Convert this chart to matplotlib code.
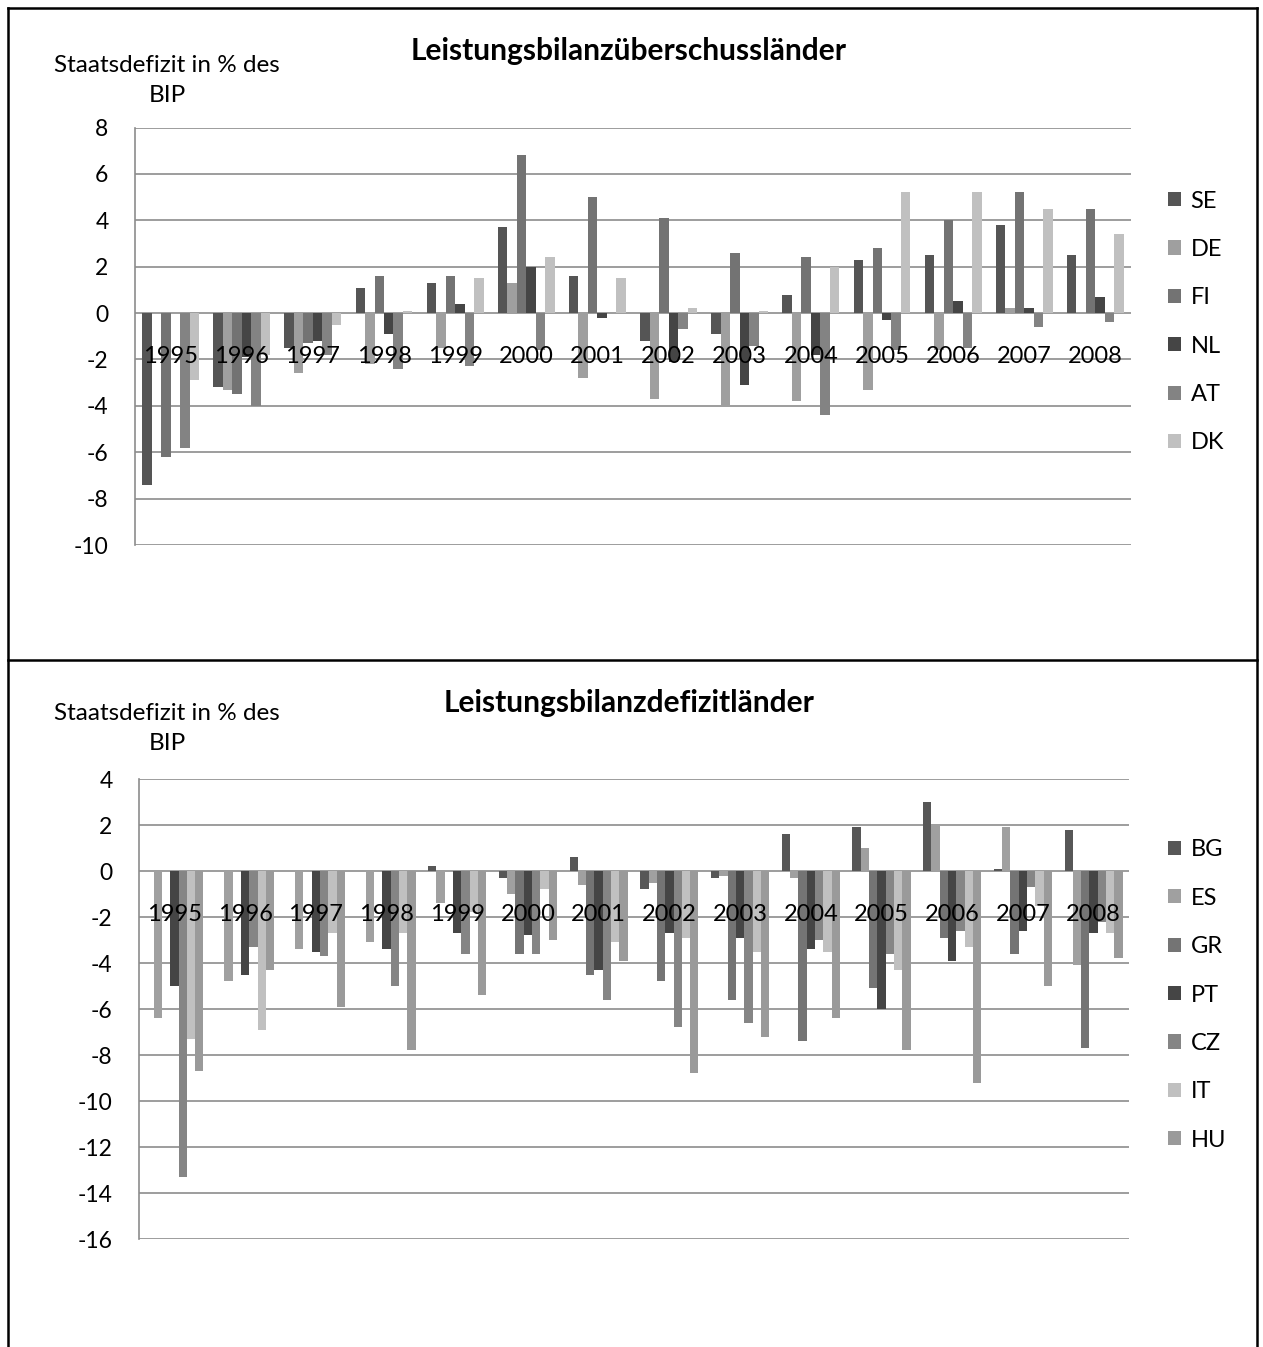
import numpy as np
import matplotlib.pyplot as plt
from matplotlib.lines import Line2D

plt.rcParams['font.family'] = ['Lato', 'DejaVu Sans']
plt.rcParams['axes.unicode_minus'] = False

years = ['1995', '1996', '1997', '1998', '1999', '2000', '2001',
         '2002', '2003', '2004', '2005', '2006', '2007', '2008']
nan = np.nan

# Leistungsbilanzueberschusslaender
SE = [-7.4, -3.2, -1.5, 1.1, 1.3, 3.7, 1.6, -1.2, -0.9, 0.8, 2.3, 2.5, 3.8, 2.5]
DE = [nan, -3.3, -2.6, -2.2, -1.5, 1.3, -2.8, -3.7, -4.0, -3.8, -3.3, -1.6, 0.2, 0.0]
FI = [-6.2, -3.5, -1.3, 1.6, 1.6, 6.8, 5.0, 4.1, 2.6, 2.4, 2.8, 4.0, 5.2, 4.5]
NL = [nan, -1.9, -1.2, -0.9, 0.4, 2.0, -0.2, -2.1, -3.1, -1.8, -0.3, 0.5, 0.2, 0.7]
AT = [-5.8, -4.0, -1.8, -2.4, -2.3, -1.6, 0.0, -0.7, -1.4, -4.4, -1.6, -1.5, -0.6, -0.4]
DK = [-2.9, -1.8, -0.5, 0.1, 1.5, 2.4, 1.5, 0.2, 0.1, 2.0, 5.2, 5.2, 4.5, 3.4]

# Leistungsbilanzdefizitlaender
BG = [nan, nan, nan, nan, 0.2, -0.3, 0.6, -0.8, -0.3, 1.6, 1.9, 3.0, 0.1, 1.8]
ES = [-6.4, -4.8, -3.4, -3.1, -1.4, -1.0, -0.6, -0.5, -0.2, -0.3, 1.0, 2.0, 1.9, -4.1]
GR = [nan, nan, nan, nan, nan, -3.6, -4.5, -4.8, -5.6, -7.4, -5.1, -2.9, -3.6, -7.7]
PT = [-5.0, -4.5, -3.5, -3.4, -2.7, -2.8, -4.3, -2.7, -2.9, -3.4, -6.0, -3.9, -2.6, -2.7]
CZ = [-13.3, -3.3, -3.7, -5.0, -3.6, -3.6, -5.6, -6.8, -6.6, -3.0, -3.6, -2.6, -0.7, -2.2]
IT = [-7.3, -6.9, -2.7, -2.7, -1.8, -0.8, -3.1, -2.9, -3.5, -3.5, -4.3, -3.3, -1.5, -2.7]
HU = [-8.7, -4.3, -5.9, -7.8, -5.4, -3.0, -3.9, -8.8, -7.2, -6.4, -7.8, -9.2, -5.0, -3.8]

top_series = {'SE': SE, 'DE': DE, 'FI': FI, 'NL': NL, 'AT': AT, 'DK': DK}
top_colors = ['#555555', '#9f9f9f', '#737373', '#454545', '#838383', '#c0c0c0']
bot_series = {'BG': BG, 'ES': ES, 'GR': GR, 'PT': PT, 'CZ': CZ, 'IT': IT, 'HU': HU}
bot_colors = ['#575757', '#a0a0a0', '#747474', '#454545', '#858585', '#c0c0c0', '#9a9a9a']

W, H = 1263, 1347
fig = plt.figure(figsize=(W / 100, H / 100), dpi=100)


def panel(rect, series, colors, ylim, title, title_y, ylab_y, leg_y):
    ax = fig.add_axes(rect)
    x = np.arange(len(years))
    n = len(series)
    w = 1.0 / (n + 1.5)
    for k, (name, vals) in enumerate(series.items()):
        ax.bar(x + (k - (n - 1) / 2) * w, vals, width=w, color=colors[k],
               label=name, zorder=2)
    ax.set_xlim(-0.5, len(years) - 0.5)
    ax.set_ylim(*ylim)
    ax.set_yticks(np.arange(ylim[0], ylim[1] + 1, 2))
    ax.yaxis.grid(True, color='#8c8c8c', linewidth=1.2, zorder=0)
    ax.set_axisbelow(True)
    ax.set_xticks([])
    ax.tick_params(axis='y', length=0, pad=19, labelsize=16.5)
    for s in ['top', 'right', 'bottom']:
        ax.spines[s].set_visible(False)
    ax.spines['left'].set_color('#8c8c8c')
    ax.spines['left'].set_linewidth(1.2)
    for i, yr in enumerate(years):
        ax.annotate(yr, (i, 0), xytext=(0, -31.5), textcoords='offset points',
                    ha='center', va='center', fontsize=17, zorder=5)
    fig.text(0.498, 1 - title_y / H, title, ha='center', va='center',
             fontsize=21.5, fontweight='bold')
    fig.text(167 / W, 1 - ylab_y / H, 'Staatsdefizit in % des', ha='center',
             va='center', fontsize=17.5)
    fig.text(167 / W, 1 - (ylab_y + 30) / H, 'BIP', ha='center',
             va='center', fontsize=17.5)
    ax.legend(loc='center left', bbox_to_anchor=(1168 / W, 1 - leg_y / H),
              bbox_transform=fig.transFigure, frameon=False, fontsize=17,
              handlelength=0.55, handleheight=0.55, handletextpad=0.4,
              labelspacing=1.16, borderpad=0, borderaxespad=0)
    return ax


panel([135 / W, 1 - 545 / H, 996 / W, 417.5 / H], top_series, top_colors,
      (-10, 8), 'Leistungsbilanzüberschussländer', 51, 66, 322)
panel([139 / W, 1 - 1239 / H, 990 / W, 460 / H], bot_series, bot_colors,
      (-16, 4), 'Leistungsbilanzdefizitländer', 703, 714, 995)

# frame lines
for xs, ys in [([8, 8], [8, H]), ([1257, 1257], [8, H]),
               ([8, 1257], [8, 8]), ([8, 1257], [660, 660])]:
    fig.add_artist(Line2D([v / W for v in xs], [1 - v / H for v in ys],
                          color='black', linewidth=1.8))

fig.savefig('out.png', dpi=100)
